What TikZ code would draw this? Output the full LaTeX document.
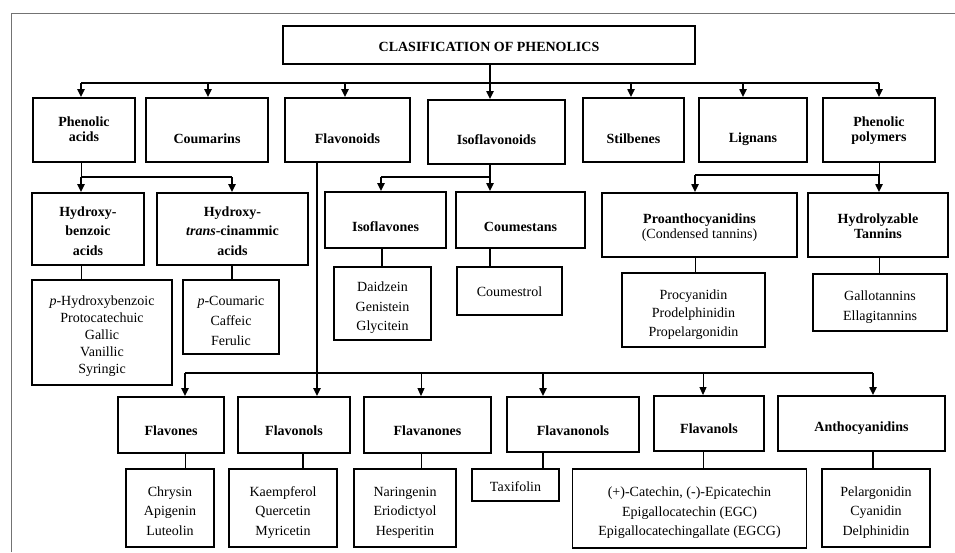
\documentclass[tikz,border=0pt]{standalone}
\usepackage{fontspec}
\setmainfont{Liberation Serif}
\usetikzlibrary{arrows.meta}
\newcommand\lowtext[2]{\raisebox{-#1}[\height][\depth]{#2}}
\newcommand\stack[2][4pt]{\lowtext{#1}{\begin{tabular}{@{}c@{}}#2\end{tabular}}}
\begin{document}
\begin{tikzpicture}[x=1pt,y=-1pt,
  box/.style={draw, line width=1.8pt, inner sep=0pt, align=center},
  hd/.style={box, font=\fontsize{14}{15}\selectfont\bfseries},
  hdw/.style={box, font=\fontsize{14}{19.5}\selectfont\bfseries},
  lst/.style={box, font=\fontsize{14}{19.5}\selectfont},
  thinl/.style={line width=1pt},
  medl/.style={line width=2pt},
  thickl/.style={line width=2.8pt},
  tip/.style={-{Triangle[width=7pt,length=8pt]}},
  frame/.style={draw=black!55, line width=1pt}]
\useasboundingbox (0,0) rectangle (955,552);
\draw[frame] (11,552) -- (11,13) -- (955,13);

% title
\node[hd, minimum width=412pt, minimum height=38pt] (title) at (489,45) {\lowtext{2pt}{CLASIFICATION OF PHENOLICS}};

% row 1
\node[hd, minimum width=102pt, minimum height=64pt] (pa)  at (84,130)    {\stack[1pt]{Phenolic\\acids}};
\node[hd, minimum width=122pt, minimum height=64pt] (cou) at (207,130)   {\lowtext{9pt}{Coumarins}};
\node[hd, minimum width=125pt, minimum height=64pt] (fla) at (347.5,130) {\lowtext{9pt}{Flavonoids}};
\node[hd, minimum width=137pt, minimum height=64pt] (iso) at (496.5,132) {\lowtext{8pt}{Isoflavonoids}};
\node[hd, minimum width=101pt, minimum height=64pt] (sti) at (633.5,130) {\lowtext{9pt}{Stilbenes}};
\node[hd, minimum width=108pt, minimum height=64pt] (lig) at (753,130)   {\lowtext{9pt}{Lignans}};
\node[hd, minimum width=112pt, minimum height=64pt] (pp)  at (879,130)   {\stack[1pt]{Phenolic\\polymers}};

% row 2
\node[hdw, minimum width=112pt, minimum height=72pt] (hb)  at (88,229)    {\stack[3pt]{Hydroxy-\\benzoic\\acids}};
\node[hdw, minimum width=151pt, minimum height=72pt] (hc)  at (232.5,229) {\stack[3pt]{Hydroxy-\\\textit{trans}-cinammic\\acids}};
\node[hd, minimum width=121pt, minimum height=56pt] (isf) at (385.5,220) {\lowtext{7pt}{Isoflavones}};
\node[hd, minimum width=129pt, minimum height=56pt] (cms) at (520.5,220) {\lowtext{7pt}{Coumestans}};
\node[hd, minimum width=195pt, minimum height=64pt] (pro) at (699.5,225) {\stack[3pt]{Proanthocyanidins\\\mdseries (Condensed tannins)}};
\node[hd, minimum width=140pt, minimum height=64pt] (hyd) at (878,225)   {\stack[3pt]{Hydrolyzable\\Tannins}};

% row 3
\node[lst, font=\fontsize{14}{17}\selectfont, minimum width=140pt, minimum height=105pt] (l1) at (102,332.5)
  {\stack{\textit{p}-Hydroxybenzoic\\Protocatechuic\\Gallic\\Vanillic\\Syringic}};
\node[lst, font=\fontsize{14}{20}\selectfont, minimum width=96pt, minimum height=74pt] (l2) at (231,317)
  {\stack{\textit{p}-Coumaric\\Caffeic\\Ferulic}};
\node[lst, minimum width=97pt, minimum height=73pt] (l3) at (382.5,303.5) {\stack{Daidzein\\Genistein\\Glycitein}};
\node[lst, minimum width=105pt, minimum height=48pt] (l4) at (509.5,291) {\lowtext{1pt}{Coumestrol}};
\node[lst, font=\fontsize{14}{18.5}\selectfont, minimum width=143pt, minimum height=74pt] (l5) at (693.5,310)
  {\stack{Procyanidin\\Prodelphinidin\\Propelargonidin}};
\node[lst, font=\fontsize{14}{20}\selectfont, minimum width=134pt, minimum height=57pt] (l6) at (880,302.5)
  {\stack{Gallotannins\\Ellagitannins}};

% row 4
\node[hd, minimum width=106pt, minimum height=56pt] (fv1) at (171,425)   {\lowtext{6pt}{Flavones}};
\node[hd, minimum width=112pt, minimum height=56pt] (fv2) at (294,425)   {\lowtext{6pt}{Flavonols}};
\node[hd, minimum width=127pt, minimum height=56pt] (fv3) at (427.5,425) {\lowtext{6pt}{Flavanones}};
\node[hd, minimum width=132pt, minimum height=55pt] (fv4) at (573,424.5) {\lowtext{6pt}{Flavanonols}};
\node[hd, minimum width=110pt, minimum height=55pt] (fv5) at (709,423.5) {\lowtext{5pt}{Flavanols}};
\node[hd, minimum width=167pt, minimum height=55pt] (fv6) at (861.5,423.5) {\lowtext{5pt}{Anthocyanidins}};

% row 5
\node[lst, minimum width=88pt,  minimum height=78pt] (m1) at (170,508)   {\stack{Chrysin\\Apigenin\\Luteolin}};
\node[lst, minimum width=108pt, minimum height=78pt] (m2) at (283,508)   {\stack{Kaempferol\\Quercetin\\Myricetin}};
\node[lst, minimum width=102pt, minimum height=78pt] (m3) at (405,508)   {\stack{Naringenin\\Eriodictyol\\Hesperitin}};
\node[lst, minimum width=87pt,  minimum height=32pt] (m4) at (515.5,485) {\lowtext{2pt}{Taxifolin}};
\node[lst, minimum width=234pt, minimum height=79pt] (m5) at (689.5,508.5)
  {\stack{(+)-Catechin, (-)-Epicatechin\\Epigallocatechin (EGC)\\Epigallocatechingallate (EGCG)}};
\node[lst, minimum width=108pt, minimum height=78pt] (m6) at (876,508)   {\stack{Pelargonidin\\Cyanidin\\Delphinidin}};

% ---- connectors: main bus
\coordinate (d-pa)  at (81,83);
\coordinate (d-cou) at (208,83);
\coordinate (d-fla) at (345,83);
\coordinate (d-iso) at (490,83);
\coordinate (d-sti) at (631,83);
\coordinate (d-lig) at (743,83);
\coordinate (d-pp)  at (879,83);
\draw[medl] (d-pa) -- (d-pp);
\draw[thickl, tip] (d-iso |- title.south) -- (d-iso |- iso.north);
\foreach \n in {pa,cou,fla,sti,lig,pp}
  \draw[medl, tip] (d-\n) -- (d-\n |- \n.north);

% phenolic acids
\coordinate (pa1) at (81,177);
\coordinate (pa2) at (232,177);
\draw[thinl] (pa1 |- pa.south) -- (pa1);
\draw[thickl] (pa1) -- (pa2);
\draw[thickl, tip] (pa1) -- (pa1 |- hb.north);
\draw[thickl, tip] (pa2) -- (pa2 |- hc.north);
\draw[thinl] (pa1 |- hb.south) -- (pa1 |- l1.north);
\draw[thickl] (pa2 |- hc.south) -- (pa2 |- l2.north);

% isoflavonoids
\coordinate (if1) at (381,177);
\coordinate (if2) at (490,177);
\draw[thickl] (if1) -- (if2);
\draw[medl, tip] (if1) -- (if1 |- isf.north);
\draw[thickl, tip] (if2 |- iso.south) -- (if2 |- cms.north);
\draw[thickl] (382,0 |- isf.south) -- (382,0 |- l3.north);
\draw[thickl] (if2 |- cms.south) -- (if2 |- l4.north);

% phenolic polymers
\coordinate (pp1) at (695,175);
\coordinate (pp2) at (879,175);
\draw[thinl] (pp2 |- pp.south) -- (pp2);
\draw[medl] (pp1) -- (pp2);
\draw[thickl, tip] (pp1) -- (pp1 |- pro.north);
\draw[thickl, tip] (pp2) -- (pp2 |- hyd.north);
\draw[thinl] (pp1 |- pro.south) -- (pp1 |- l5.north);
\draw[thinl] (pp2 |- hyd.south) -- (pp2 |- l6.north);

% flavonoids
\coordinate (f0) at (317,373);
\coordinate (f1) at (185,373);
\coordinate (f3) at (421,373);
\coordinate (f4) at (543,373);
\coordinate (f5) at (703,373);
\coordinate (f6) at (873,373);
\draw[medl] (f0 |- fla.south) -- (f0);
\draw[thickl] (f1) -- (f6);
\draw[medl, tip]   (f1) -- (f1 |- fv1.north);
\draw[thickl, tip] (f0) -- (f0 |- fv2.north);
\draw[thinl, tip]  (f3) -- (f3 |- fv3.north);
\draw[thickl, tip] (f4) -- (f4 |- fv4.north);
\draw[thinl, tip]  (f5) -- (f5 |- fv5.north);
\draw[thickl, tip] (f6) -- (f6 |- fv6.north);

\draw[thinl]  (f1 |- fv1.south) -- (f1 |- m1.north);
\draw[thickl] (303,0 |- fv2.south) -- (303,0 |- m2.north);
\draw[thinl]  (f3 |- fv3.south) -- (f3 |- m3.north);
\draw[thickl] (f4 |- fv4.south) -- (f4 |- m4.north);
\draw[thinl]  (f5 |- fv5.south) -- (f5 |- m5.north);
\draw[thickl] (f6 |- fv6.south) -- (f6 |- m6.north);
\end{tikzpicture}
\end{document}
